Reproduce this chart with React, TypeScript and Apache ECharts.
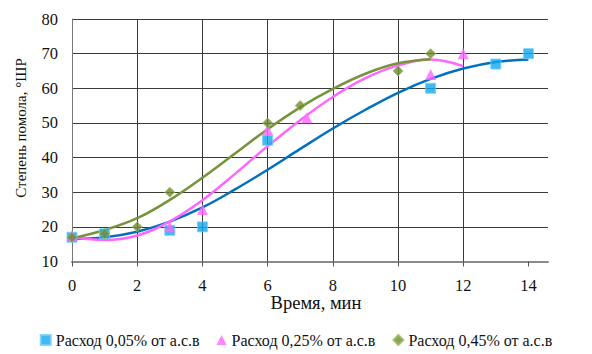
import React, { useEffect, useRef } from "react";
import * as echarts from "echarts";

// Measured points
const s1Name = "Расход 0,05% от а.с.в";
const s2Name = "Расход 0,25% от а.с.в";
const s3Name = "Расход 0,45% от а.с.в";

const s1X = [0, 1, 3, 4, 6, 11, 13, 14];
const s1Y = [17, 18, 19, 20, 45, 60, 67, 70];
const s2X = [0, 3, 4, 6, 7.2, 11, 12];
const s2Y = [17.5, 20, 25, 48, 51.5, 64, 70];
const s3X = [0, 1, 2, 3, 6, 7, 10, 11];
const s3Y = [17, 18, 20, 30, 50, 55, 65, 70];

// Trend lines
const t1X = [0, 1, 2, 3, 4, 5, 6, 7, 8, 9, 10, 11, 12, 13, 14];
const t1Y = [16.5, 17, 18.6, 21.5, 25.6, 30.8, 36.5, 42.5, 48.4, 53.8, 58.7, 62.7, 65.7, 67.6, 68.3];
const t2X = [0, 1, 2, 3, 4, 5, 6, 7, 8, 9, 10, 11, 12];
const t2Y = [17, 16.2, 17.5, 21.6, 27.7, 35.3, 43.3, 50.8, 57.5, 62.9, 66.6, 68.3, 66.4];
const t3X = [0, 1, 2, 3, 4, 5, 6, 7, 8, 9, 10, 11];
const t3Y = [16.7, 19.1, 22.5, 27.8, 34.2, 41.2, 48.2, 54.5, 59.8, 64.2, 67.2, 68.4];

const xTickValues = [0, 2, 4, 6, 8, 10, 12, 14];
const xAxisTitle = "Время, мин";
const yAxisTitle = "Степень помола, °ШР";

const zip = (xs: number[], ys: number[]) => xs.map((x, i) => [x, ys[i]]);

const FONT = "'Liberation Serif', 'Times New Roman', serif";
const FS = 16.5;

export default function App() {
  const ref = useRef<HTMLDivElement>(null);
  useEffect(() => {
    if (!ref.current) return;
    const chart = echarts.init(ref.current, null, { renderer: "svg" });
    const lineBase = (color: string) => ({
      type: "line" as const,
      smooth: 0.4,
      symbol: "none",
      lineStyle: { color, width: 2.5 },
      z: 2,
      silent: true,
    });
    chart.setOption({
      animation: false,
      textStyle: { fontFamily: FONT },
      grid: { left: 72, right: 44, top: 19, bottom: 92.5, containLabel: false },
      xAxis: {
        type: "value",
        min: 0,
        max: 14.6,
        interval: 2,
        axisLine: { show: true, lineStyle: { color: "#8a8a8a", width: 2 } },
        axisTick: {
          show: true,
          length: 5,
          lineStyle: { color: "#555" },
          customValues: xTickValues,
        },
        axisLabel: {
          margin: 15,
          fontSize: FS,
          color: "#111",
          fontFamily: FONT,
          customValues: xTickValues,
        },
        splitLine: {
          show: true,
          showMinLine: false,
          showMaxLine: false,
          lineStyle: { color: "#3a3a3a", width: 1 },
        },
      },
      yAxis: {
        type: "value",
        min: 10,
        max: 80,
        interval: 10,
        axisLine: { show: true, lineStyle: { color: "#777", width: 1 } },
        axisTick: { show: false },
        axisLabel: { margin: 14, fontSize: FS, color: "#111", fontFamily: FONT },
        splitLine: { show: true, showMinLine: false, lineStyle: { color: "#3a3a3a", width: 1 } },
      },
      legend: {
        data: [s1Name, s2Name, s3Name],
        left: "center",
        top: 327,
        itemWidth: 10,
        itemHeight: 10,
        itemGap: 17,
        textStyle: { fontSize: 16, color: "#111", fontFamily: FONT },
      },
      graphic: [
        {
          type: "text",
          x: 316,
          y: 303,
          style: {
            text: xAxisTitle,
            fontSize: 18.5,
            fontFamily: FONT,
            fill: "#111",
            textAlign: "center",
            textVerticalAlign: "middle",
          },
        },
        {
          type: "text",
          x: 21,
          y: 128,
          rotation: Math.PI / 2,
          style: {
            text: yAxisTitle,
            fontSize: 15,
            fontFamily: FONT,
            fill: "#111",
            textAlign: "center",
            textVerticalAlign: "middle",
          },
        },
      ],
      series: [
        { ...lineBase("#0070C0"), name: "t1", data: zip(t1X, t1Y) },
        { ...lineBase("#FF66FF"), name: "t2", data: zip(t2X, t2Y) },
        { ...lineBase("#77933C"), name: "t3", data: zip(t3X, t3Y) },
        {
          type: "scatter",
          name: s1Name,
          data: zip(s1X, s1Y),
          symbol: "rect",
          symbolSize: 10,
          itemStyle: { color: "#12A8EC", borderColor: "#70D0FA", borderWidth: 1 },
          z: 3,
        },
        {
          type: "scatter",
          name: s2Name,
          data: zip(s2X, s2Y),
          symbol: "triangle",
          symbolSize: 11,
          itemStyle: { color: "#FF66FF" },
          z: 4,
        },
        {
          type: "scatter",
          name: s3Name,
          data: zip(s3X, s3Y),
          symbol: "diamond",
          symbolSize: 10,
          itemStyle: { color: "#6E8A34", borderColor: "#9BBB59", borderWidth: 1 },
          z: 5,
        },
      ],
    });
    return () => chart.dispose();
  }, []);
  return (
    <div
      ref={ref}
      style={{ position: "fixed", left: 0, top: 0, width: 592, height: 354, background: "#fff" }}
    />
  );
}
